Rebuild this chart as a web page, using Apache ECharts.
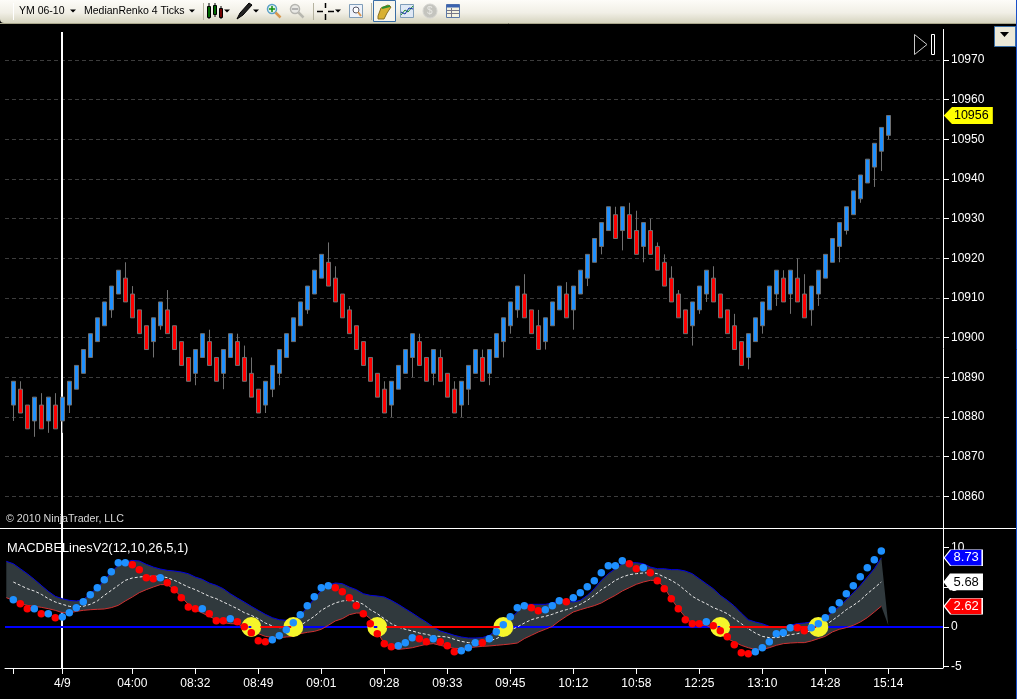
<!DOCTYPE html>
<html><head><meta charset="utf-8">
<style>html,body{margin:0;padding:0;background:#000}#c{width:1017px;height:699px}</style>
<script src="https://cdn.jsdelivr.net/npm/echarts@6/dist/echarts.min.js"></script>
</head><body><div id="c"></div>
<script>
const opens=[10883,10887,10883,10879,10883,10879,10883,10879,10883,10887,
10891,10895,10899,10903,10907,10911,10915,10911,10907,10903,
10899,10903,10907,10903,10899,10895,10891,10895,10899,10895,
10891,10895,10899,10895,10891,10887,10883,10887,10891,10895,
10899,10903,10907,10911,10915,10919,10915,10911,10907,10903,
10899,10895,10891,10887,10883,10887,10891,10895,10899,10895,
10891,10895,10891,10887,10883,10887,10891,10895,10891,10895,
10899,10903,10907,10911,10907,10903,10899,10903,10907,10911,
10907,10911,10915,10919,10923,10927,10931,10927,10931,10927,
10923,10927,10923,10919,10915,10911,10907,10903,10907,10911,
10915,10911,10907,10903,10899,10895,10899,10903,10907,10911,
10915,10911,10915,10911,10907,10911,10915,10919,10923,10927,
10931,10935,10939,10943,10947,10951];
const closes=[10889,10881,10877,10885,10877,10885,10877,10885,10889,10893,
10897,10901,10905,10909,10913,10917,10909,10905,10901,10897,
10905,10909,10901,10897,10893,10889,10897,10901,10893,10889,
10897,10901,10893,10889,10885,10881,10889,10893,10897,10901,
10905,10909,10913,10917,10921,10913,10909,10905,10901,10897,
10893,10889,10885,10881,10889,10893,10897,10901,10893,10889,
10897,10889,10885,10881,10889,10893,10897,10889,10897,10901,
10905,10909,10913,10905,10901,10897,10905,10909,10913,10905,
10913,10917,10921,10925,10929,10933,10925,10933,10925,10921,
10929,10921,10917,10913,10909,10905,10901,10909,10913,10917,
10909,10905,10901,10897,10893,10901,10905,10909,10913,10917,
10909,10917,10909,10905,10913,10917,10921,10925,10929,10933,
10937,10941,10945,10949,10953,10956];
const wickLows={0:10879,3:10875,5:10876,7:10876,8:10881,14:10905,20:10895,21:10902,26:10888,30:10887,36:10881,37:10885,38:10888,42:10906,54:10880,57:10890,60:10888,64:10880,65:10883,68:10888,70:10895,71:10901,72:10905,76:10897,80:10902,82:10913,84:10921,87:10922,90:10919,97:10898,98:10906,99:10909,105:10892,107:10901,109:10908,111:10906,114:10903,115:10908,118:10919,119:10926,121:10934,123:10938,124:10942,125:10950};
const wickHighs={1:10889,4:10886,6:10886,16:10919,17:10913,22:10912,28:10902,32:10901,33:10898,34:10895,45:10924,46:10918,48:10908,53:10889,58:10901,61:10897,63:10889,67:10897,73:10916,75:10907,79:10914,86:10933,88:10934,89:10932,91:10930,92:10924,93:10921,94:10918,95:10912,100:10918,103:10906,110:10917,112:10920,113:10916};

// MACD dots, bars 0..124
const dotValues=[3.45,2.94,2.31,2.31,1.68,1.68,1.18,1.26,1.81,2.44,3.19,4.08,4.96,5.97,6.97,8.11,8.11,7.86,7.23,6.22,6.09,6.22,5.59,4.71,3.70,2.52,2.31,2.31,1.68,0.80,0.80,1.05,0.67,0.04,-0.71,-1.72,-1.85,-1.60,-1.09,-0.34,0.55,1.55,2.69,3.82,4.96,5.21,4.96,
4.45,3.70,2.69,1.68,0.42,-0.84,-2.10,-2.48,-2.35,-1.97,-1.34,-1.47,-1.85,-1.47,-1.85,-2.35,-3.11,-2.98,-2.61,-1.97,-1.97,-1.47,-0.59,0.29,1.30,2.44,2.69,2.44,2.06,2.18,2.69,3.32,3.19,3.70,4.33,5.08,5.84,6.85,7.73,7.73,8.36,7.98,7.35,7.48,6.85,5.84,4.83,3.57,2.31,
0.92,0.42,0.42,0.67,0.17,-0.46,-1.22,-2.23,-3.24,-3.36,-3.11,-2.61,-1.85,-0.84,-0.71,-0.08,-0.08,-0.46,-0.08,0.42,1.18,2.18,3.07,4.20,5.21,6.34,7.48,8.49,9.58];
const dotSides="brrbrbrbbb"+"bbbbbbbrrr"+"rbrrrrrbrr"+"rbrrrrrbbb"+"bbbbbbrrrr"+"rrrrrbbbrr"+"brrrbbbrbb"+"bbbbrrbbbr"+"bbbbbbbbrr"+"brrrrrrrrb"+"rrrrrrbbbb"+"bbrrbbbbbb"+"bbbbb";

// Band, bars -1..125
const bandUpper=[8.28,7.98,7.35,6.72,6.01,5.25,4.50,3.87,3.57,3.36,3.28,3.45,4.20,4.96,5.88,6.93,7.77,8.19,8.40,8.32,7.90,7.56,7.31,7.14,7.06,6.93,6.72,6.30,6.01,5.55,5.25,4.83,4.20,3.66,3.15,2.61,2.10,1.60,1.18,0.92,0.84,0.92,1.47,2.52,3.57,4.62,5.25,5.55,
5.46,5.04,4.71,4.20,3.99,3.91,3.78,3.36,2.86,2.31,1.76,1.18,0.63,0,-0.50,-0.76,-1.05,-1.26,-1.39,-1.39,-1.34,-1.05,-0.42,0.42,1.05,1.89,2.86,2.86,2.86,2.86,3.03,3.28,3.28,3.15,3.36,3.99,4.83,5.88,6.72,7.35,7.98,8.11,8.11,7.98,7.56,7.35,7.35,7.23,7.23,
7.06,6.72,6.09,5.46,4.83,3.99,3.36,2.65,1.76,0.92,0.63,0.42,0.08,0,0,0.21,0.42,0.50,0.63,0.84,1.18,1.89,2.61,3.45,4.33,5.25,6.30,7.35,8.73,0.21];
const bandLower=[3.70,3.36,2.94,2.73,2.61,2.48,2.31,2.10,1.81,1.76,1.97,2.10,2.18,2.23,2.27,2.44,2.73,3.28,3.78,4.33,4.71,5.04,5.34,5.34,4.71,3.78,2.86,2.18,1.76,1.34,0.92,0.55,0.42,0.38,0,-0.42,-0.84,-1.18,-1.30,-1.34,-1.26,-1.18,-0.84,-0.67,-0.55,-0.29,0.21,0.76,
1.05,1.55,1.76,1.76,1.05,-0.63,-2.10,-2.52,-2.82,-2.73,-2.61,-2.39,-2.18,-2.10,-2.31,-2.52,-2.69,-2.73,-2.61,-2.52,-2.44,-2.39,-2.31,-2.23,-2.14,-2.02,-1.47,-1.05,-0.63,-0.29,0.08,0.76,1.34,1.89,2.18,2.44,2.69,3.03,3.53,3.99,4.54,4.96,5.38,5.67,5.88,5.88,4.96,3.57,2.31,
1.26,0.42,0.21,0.21,-0.21,-0.92,-1.47,-1.89,-2.31,-2.61,-2.82,-2.82,-2.61,-2.31,-2.10,-2.02,-1.97,-1.97,-1.76,-1.47,-1.18,-0.63,-0.29,-0.08,0.21,0.63,1.18,1.89,2.62,0.21];
// Mid line, bars 0..124
const bandMid=[5.67,5.25,4.83,4.54,4.12,3.57,3.15,2.86,2.61,2.52,2.61,2.86,3.28,3.99,4.62,5.25,5.88,6.18,6.30,6.39,6.39,6.39,6.22,5.88,5.46,5.04,4.71,4.29,3.87,3.57,3.15,2.73,2.31,1.81,1.47,1.05,0.50,0.13,-0.08,-0.08,-0.08,0.21,0.76,1.34,2.10,2.61,3.03,
3.28,3.36,3.24,2.86,2.18,1.68,1.05,0.42,0,-0.29,-0.50,-0.76,-0.92,-1.13,-1.18,-1.26,-1.55,-1.81,-1.97,-1.97,-1.89,-1.76,-1.47,-1.05,-0.42,0,0.50,0.92,1.18,1.34,1.60,1.93,2.18,2.44,2.86,3.36,3.99,4.71,5.25,5.88,6.30,6.60,6.72,6.81,6.85,6.72,6.30,5.88,5.34,
4.62,3.87,3.36,2.94,2.44,2.10,1.68,1.05,0.42,-0.21,-0.76,-1.18,-1.34,-1.34,-1.18,-0.97,-0.84,-0.63,-0.50,-0.25,0.21,0.84,1.47,2.18,2.73,3.36,4.20,4.92,5.68];

const crossBars=[34,40,52,70,101,115];
const redSpans=[[35.3,39.7],[53.3,69.5],[102.3,114.7]];
const blueDashes=[[33.6,34],[51.5,52],[100.6,101]];

const tickBars=[0,7,17,26,35,44,53,62,71,80,89,98,107,116,125];
const labelBars=[7,17,26,35,44,53,62,71,80,89,98,107,116,125];
const timeLabels=["4/9","04:00","08:32","08:49","09:01","09:28","09:33","09:45","10:12","10:58","12:25","13:10","14:28","15:14"];

const priceTags=[{v:10956,t:"10956"}];
const macdTags=[{v:8.73,t:"8.73",bg:"#0000ff",fg:"#fff",bd:"#fff"},{v:5.68,t:"5.68",bg:"#ffffff",fg:"#000",bd:"#fff"},{v:2.62,t:"2.62",bg:"#ff0000",fg:"#fff",bd:"#fff"}];

// x scale: bar 0 centre at px 13.3, 7 px per bar, plot runs 5..943
const xMin=(5-13.3)/7, xMax=(943-13.3)/7;
const F='"Liberation Sans",Arial,sans-serif';
const candles=opens.map((o,i)=>{const c=closes[i];
  const lo=wickLows[i]!==undefined?wickLows[i]:Math.min(o,c);
  const hi=wickHighs[i]!==undefined?wickHighs[i]:Math.max(o,c);
  return [i,o,c,lo,hi];});
const xs=(arr,start)=>arr.map((v,i)=>[i+start,v]);
const spans=a=>{const r=[];a.forEach(s=>{r.push([s[0],0],[s[1],0],['-','-']);});return r;};
const dots=dotValues.map((v,i)=>({value:[i,v],itemStyle:{color:dotSides[i]==='b'?'#1e90ff':'#ff0000',opacity:1}}));

const xBase={type:'value',min:xMin,max:xMax,splitLine:{show:false}};
const yText={color:'#fff',fontFamily:F,fontSize:12,margin:8,padding:[3,0,0,0],formatter:v=>String(v)};
const tagPath='path://M0 8 L8 0 L48 0 L48 16 L8 16 Z';

function tri(x,y,c){return {type:'polygon',shape:{points:[[x-3,y-1.5],[x+3,y-1.5],[x,y+1.5]]},style:{fill:c||'#000'},z:102};}
function r(x,y,w,h,f,s){return {type:'rect',shape:{x,y,width:w,height:h},style:{fill:f,stroke:s||null,lineWidth:1},z:102};}
function ln(a,b,c,d,s,w){return {type:'line',shape:{x1:a,y1:b,x2:c,y2:d},style:{stroke:s,lineWidth:w||1},z:102};}
function txt(x,y,t,f,c,sz){return {type:'text',x,y,style:{text:t,fill:c||'#000',font:(sz||10.5)+'px '+F,textVerticalAlign:'middle'},z:103};}
const gr=[
 {type:'rect',shape:{x:0,y:0,width:1017,height:23,r:[0,0,0,4]},z:100,style:{fill:new echarts.graphic.LinearGradient(0,0,0,1,[{offset:0,color:'#fdfcf8'},{offset:.55,color:'#f1efe6'},{offset:1,color:'#d6d4bf'}])}},
 ln(0,23.5,1017,23.5,'#a9a78c'),
 ln(13.5,3,13.5,20,'#fff'),ln(203.5,3,203.5,20,'#b5b3a0'),ln(313.5,3,313.5,20,'#b5b3a0'),ln(371.5,3,371.5,20,'#b5b3a0'),
 txt(19,11.5,'YM 06-10'),tri(73,11),txt(84,11.5,'MedianRenko 4 Ticks'),tri(192,11),
 r(207.5,6.5,3,11,'#00d000','#000'),ln(209,3,209,19,'#000'),r(213.5,5.5,3,9,'#00d000','#000'),ln(215,3,215,17,'#000'),r(219.5,8.5,3,9,'#e00000','#000'),ln(221,6,221,19,'#000'),tri(227,11),
 {type:'polygon',shape:{points:[[237,19],[240,13],[249,3],[252,5],[243,15]]},style:{fill:'#222',stroke:'#000'},z:102},tri(256,11),
 {type:'circle',shape:{cx:272,cy:9,r:4.5},style:{fill:'#e8f4e8',stroke:'#5aa0c8',lineWidth:1.5},z:102},ln(269,9,275,9,'#109010',1.5),ln(272,6,272,12,'#109010',1.5),ln(275.5,12.5,280.5,17.5,'#d89850',2.5),
 {type:'circle',shape:{cx:295,cy:9,r:4.5},style:{fill:'#e8e8e4',stroke:'#b5b5b0',lineWidth:1.5},z:102},ln(292,9,298,9,'#a0a0a0',1.5),ln(298.5,12.5,303.5,17.5,'#b8b8b0',2.5),
 ln(317,11.5,323,11.5,'#000',1.5),ln(328,11.5,334,11.5,'#000',1.5),ln(325.5,3,325.5,8,'#000',1.5),ln(325.5,14,325.5,20,'#000',1.5),tri(338,11),
 r(349.5,4.5,13,13,'#eef2fa','#7f9db9'),{type:'circle',shape:{cx:356,cy:10,r:3},style:{fill:'#fff',stroke:'#556'},z:102},ln(358,12,361,16,'#d89850',2),
 r(373.5,0.5,22,21,'#f7f6ee','#3a6ea5'),{type:'polygon',shape:{points:[[378,16],[381,8],[388,5],[391,7],[387,13],[384,19],[378,19]]},style:{fill:'#d8b030',stroke:'#8a7020'},z:102},ln(382,8,390,6,'#2a9030',2),
 r(400.5,4.5,13,13,'#dfe8f5','#7f9db9'),{type:'polyline',shape:{points:[[401,15],[405,10],[408,12],[413,6]]},style:{stroke:'#209030',fill:null,lineWidth:1},z:103},{type:'polyline',shape:{points:[[401,12],[405,14],[409,8],[413,9]]},style:{stroke:'#1030a0',fill:null,lineWidth:1},z:103},
 {type:'circle',shape:{cx:430,cy:11,r:7},style:{fill:'#c4c4be',stroke:'#d4d4d0'},z:102},txt(427,11.5,'$',0,'#e8e8e4',10),
 r(446.5,4.5,13,13,'#f4f2e0','#5a78a8'),r(446.5,4.5,13,3,'#3a62b0'),ln(447,10.5,459,10.5,'#778'),ln(447,13.5,459,13.5,'#778'),ln(451.5,8,451.5,17,'#778'),
 r(994.5,26.5,21,20,'#ece9d8','#3a6ea5'),{type:'polygon',shape:{points:[[1000,32],[1009,32],[1004.5,37]]},style:{fill:'#000'},z:103},
 ln(1016.5,0,1016.5,699,'#1a50c8'),
 {type:'polygon',shape:{points:[[914.5,34.5],[927,44.5],[914.5,54.5]]},style:{fill:'#000',stroke:'#c8c8c8',lineWidth:1},z:50},
 {type:'rect',shape:{x:931.5,y:34.5,width:3,height:20},style:{fill:'#000',stroke:'#fff',lineWidth:1},z:50},
 {type:'rect',shape:{x:61,y:32,width:2,height:636},style:{fill:'#fff'},z:1},
 {type:'line',shape:{x1:943.5,y1:29,x2:943.5,y2:668},style:{stroke:'#fff',lineWidth:1},z:1},
 {type:'line',shape:{x1:0,y1:528.5,x2:1016,y2:528.5},style:{stroke:'#fff',lineWidth:1},z:1},
 {type:'text',x:6,y:519,style:{text:'\u00a9 2010 NinjaTrader, LLC',fill:'#d8d8d8',font:'10.7px '+F,textVerticalAlign:'middle'},z:3},
 {type:'text',x:7,y:548,style:{text:'MACDBELinesV2(12,10,26,5,1)',fill:'#fff',font:'12.85px '+F,textVerticalAlign:'middle'},z:3}
];

function renderBand(params,api){
  if(params.dataIndex!==0) return null;
  const top=bandUpper.map((u,i)=>api.coord([i-1,u]));
  const bot=bandLower.map((l,i)=>api.coord([i-1,l])).reverse();
  return {type:'polygon',shape:{points:top.concat(bot)},style:{fill:'#30393d'}};
}

const option={
 animation:false,backgroundColor:'#000',graphic:{elements:gr},
 grid:[{left:5,width:938,top:60,height:436.3},{left:5,width:938,top:547.67,height:119}],
 xAxis:[
  Object.assign({},xBase,{gridIndex:0,show:false}),
  Object.assign({},xBase,{gridIndex:1,position:'bottom',offset:1.3,
   axisLine:{show:true,onZero:false,lineStyle:{color:'#fff',width:1}},
   axisTick:{show:true,length:6,customValues:tickBars,lineStyle:{color:'#fff'}},
   axisLabel:{color:'#fff',fontFamily:F,fontSize:12,margin:10,customValues:labelBars,showMinLabel:true,showMaxLabel:true,
     formatter:v=>timeLabels[labelBars.indexOf(v)]||''}})
 ],
 yAxis:[
  {type:'value',gridIndex:0,position:'right',min:10860,max:10970,interval:10,axisLine:{show:false,onZero:false},
   axisTick:{show:true,length:6,lineStyle:{color:'#fff'}},axisLabel:yText,
   splitLine:{show:true,lineStyle:{color:'#3c3c3c',type:[4,3],width:1}}},
  {type:'value',gridIndex:1,position:'right',min:-5,max:10,interval:5,axisLine:{show:false,onZero:false},
   axisTick:{show:true,length:6,lineStyle:{color:'#fff'}},axisLabel:yText,splitLine:{show:false}}
 ],
 series:[
  {name:'Price',type:'candlestick',xAxisIndex:0,yAxisIndex:0,barWidth:5,z:2,
   itemStyle:{color:'#1e90ff',color0:'#ff0000',borderColor:'#707070',borderColor0:'#707070',borderWidth:1},data:candles},
  {name:'Band',type:'custom',xAxisIndex:1,yAxisIndex:1,z:2,silent:true,renderItem:renderBand,encode:{x:0,y:1},data:xs(bandUpper,-1)},
  {name:'Zero',type:'line',xAxisIndex:1,yAxisIndex:1,showSymbol:false,silent:true,lineStyle:{color:'#0000ff',width:2},z:3,data:[[xMin,0],[xMax,0]]},
  {name:'Upper',type:'line',xAxisIndex:1,yAxisIndex:1,showSymbol:false,lineStyle:{color:'#0000e0',width:1},z:4,data:xs(bandUpper.slice(0,-1),-1)},
  {name:'Lower',type:'line',xAxisIndex:1,yAxisIndex:1,showSymbol:false,lineStyle:{color:'#d03030',width:1},z:4,data:xs(bandLower.slice(0,-1),-1)},
  {name:'Mid',type:'line',xAxisIndex:1,yAxisIndex:1,showSymbol:false,lineStyle:{color:'#e8e8e8',width:1,type:[3,2]},z:4,data:xs(bandMid,0)},
  {name:'Cross',type:'scatter',xAxisIndex:1,yAxisIndex:1,symbolSize:20,itemStyle:{color:'#f5f52a',opacity:1},z:5,data:crossBars.map(b=>[b,0])},
  {name:'RedZero',type:'line',xAxisIndex:1,yAxisIndex:1,showSymbol:false,lineStyle:{color:'#ff0000',width:2},z:6,data:spans(redSpans)},
  {name:'BlueDash',type:'line',xAxisIndex:1,yAxisIndex:1,showSymbol:false,lineStyle:{color:'#0000ff',width:2},z:6,data:spans(blueDashes)},
  {name:'Dots',type:'scatter',xAxisIndex:1,yAxisIndex:1,symbolSize:7.5,z:7,data:dots},
  {name:'PriceTag',type:'scatter',xAxisIndex:0,yAxisIndex:0,clip:false,symbol:tagPath,symbolSize:[49,17],z:8,
   data:priceTags.map(t=>({value:[136.43,t.v],itemStyle:{color:'#ffff00',opacity:1},label:{show:true,position:'inside',offset:[3,0],formatter:t.t,color:'#000',fontFamily:F,fontSize:12.5}}))},
  {name:'MacdTag',type:'scatter',xAxisIndex:1,yAxisIndex:1,clip:false,symbol:tagPath,symbolSize:[38,16],z:8,
   data:macdTags.map(t=>({value:[135.7,t.v],itemStyle:{color:t.bg,borderColor:t.bd,borderWidth:1,opacity:1},label:{show:true,position:'inside',offset:[3,0],formatter:t.t,color:t.fg,fontFamily:F,fontSize:13}}))}
 ]
};
echarts.init(document.getElementById('c'),null,{renderer:'canvas'}).setOption(option);
</script></body></html>
